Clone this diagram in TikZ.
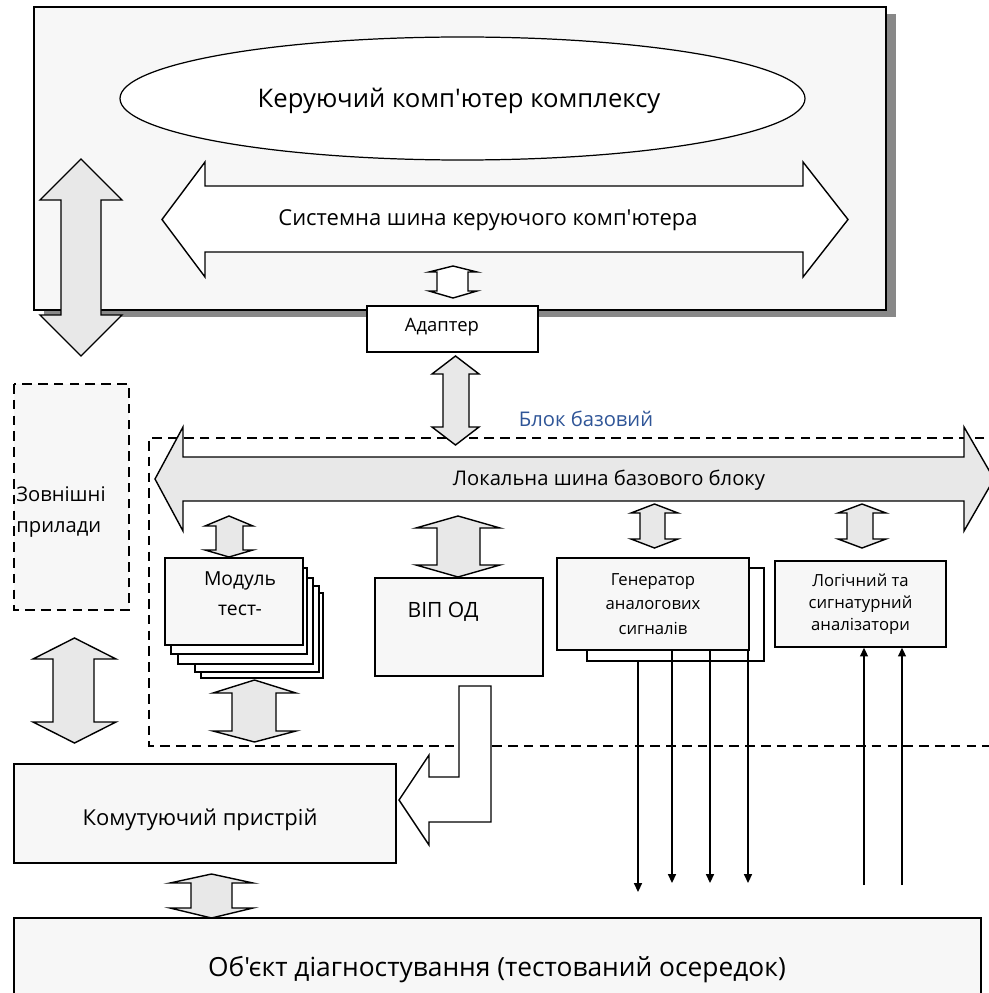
\documentclass[tikz,border=0pt]{standalone}
\usepackage{fontspec}
\setmainfont{Open Sans}[Ligatures=TeXOff]
\usetikzlibrary{arrows.meta,shapes.geometric,shadows}

\definecolor{boxfill}{HTML}{F7F7F7}
\definecolor{busfill}{HTML}{E8E8E8}
\definecolor{shadowgray}{HTML}{888888}
\definecolor{labelblue}{RGB}{47,85,151}
\newcommand{\pxu}{0.02cm}

% vertical double block arrow: fill, xl, xr, shaft l, shaft r, top, head base 1, head base 2, bottom
\newcommand{\vbus}[9]{%
  \filldraw[bus,fill=#1] ({(#2+#3)/2},#6) -- (#3,#7) -- (#5,#7) -- (#5,#8) -- (#3,#8)
    -- ({(#2+#3)/2},#9) -- (#2,#8) -- (#4,#8) -- (#4,#7) -- (#2,#7) -- cycle;}
% horizontal double block arrow: fill, left tip, right tip, head l, head r, top, shaft top, shaft bottom, bottom
\newcommand{\hbus}[9]{%
  \filldraw[bus,fill=#1] (#2,{(#6+#9)/2}) -- (#4,#6) -- (#4,#7) -- (#5,#7) -- (#5,#6)
    -- (#3,{(#6+#9)/2}) -- (#5,#9) -- (#5,#8) -- (#4,#8) -- (#4,#9) -- cycle;}

\begin{document}
\begin{tikzpicture}[x=\pxu,y=-\pxu,
    box/.style={draw,line width=0.8pt,fill=boxfill,rectangle,inner sep=0pt},
    dashbox/.style={draw,line width=0.8pt,dash pattern=on 5.5pt off 3.5pt},
    bus/.style={draw,line width=0.8pt,line join=miter},
    sig/.style={line width=0.9pt,-{Triangle[length=5pt,width=4.5pt]}}]
\useasboundingbox (0,0) rectangle (989,993);

% control computer
\node[box,minimum width=852*\pxu,minimum height=303*\pxu,
  drop shadow={shadow xshift=5.5pt,shadow yshift=-4pt,fill=shadowgray,opacity=1}] (host) at (460,158.5) {};
\node[ellipse,draw,line width=0.7pt,fill=white,minimum width=685*\pxu,minimum height=123*\pxu] (ctrl) at (462.5,98.5) {};
\node[font=\fontsize{14.6}{17}\selectfont] at (459,101) {Керуючий комп'ютер комплексу};
\hbus{white}{162}{848}{205}{803}{162}{186}{252}{277}
\node[font=\fontsize{12.5}{15}\selectfont] (sysbus) at (488,220) {Системна шина керуючого комп'ютера};
\vbus{white}{429}{477}{437}{468}{266}{272}{291}{298}
\node[box,fill=white,minimum width=171*\pxu,minimum height=46*\pxu] (adapter) at (452.5,329) {};
\node[font=\fontsize{10.5}{12}\selectfont] at (442,327) {Адаптер};

% base block
\draw[dashbox] (1000,438) -- (149,438) -- (149,746) -- (1000,746);
\node[text=labelblue,font=\fontsize{11.5}{14}\selectfont] (baselbl) at (586,419) {Блок базовий};
\vbus{busfill}{432}{479}{443}{469}{356}{374}{427}{445}
\hbus{busfill}{155}{994}{183}{964}{427}{457}{501}{531}
\node[font=\fontsize{11.5}{14}\selectfont] (locbus) at (609,480) {Локальна шина базового блоку};

% external devices
\draw[dashbox,fill=boxfill] (14,384) rectangle (129,610);
\node[anchor=west,align=left,inner sep=0pt,font=\fontsize{11.5}{17.6}\selectfont] (ext) at (16,512) {Зовнішні\\прилади};
\vbus{busfill}{40}{122}{61}{101}{159}{200}{315}{356}
\vbus{busfill}{33}{116}{53}{94}{638}{659}{722}{743}

% test modules
\foreach \xa/\ya/\xb/\yb in {201/593/323/678,195/586/319/672,178/578/313/664,171/568/307/654}
  \filldraw[fill=white,line width=0.8pt] (\xa,\ya) rectangle (\xb,\yb);
\node[box,minimum width=138*\pxu,minimum height=87*\pxu] (module) at (234,601.5) {};
\node[align=center,font=\fontsize{11}{17}\selectfont] at (240,594) {Модуль\\тест-};
\vbus{busfill}{205}{253}{216}{243}{516}{526}{550}{557}
\vbus{busfill}{213}{296}{232}{276}{680}{693}{731}{742}

% VIP OD
\node[box,minimum width=168*\pxu,minimum height=98*\pxu] (vip) at (459,627) {};
\node[font=\fontsize{12}{14}\selectfont] at (443,612) {ВІП ОД};
\vbus{busfill}{416}{500}{437}{480}{516}{528}{565}{577}

% generator
\node[draw,line width=0.8pt,fill=white,rectangle,minimum width=177*\pxu,minimum height=93*\pxu] (genback) at (675.5,614.5) {};
\node[box,minimum width=192*\pxu,minimum height=92*\pxu,align=center,
  font=\fontsize{9.5}{13.9}\selectfont] (gen) at (653,604) {Генератор\\аналогових\\сигналів};
\vbus{busfill}{631}{678}{640}{665}{504}{513}{539}{548}

% analysers
\node[box,minimum width=171*\pxu,minimum height=86*\pxu,align=center,
  font=\fontsize{9.5}{12.5}\selectfont] (logic) at (860.5,604) {Логічний та\\сигнатурний\\аналізатори};
\vbus{busfill}{838}{886}{847}{873}{504}{513}{539}{548}

% signal lines
\foreach \x/\y [count=\i] in {638/892,672/883,710/883,748/883}{
  \coordinate (gx\i) at (\x,0);
  \coordinate (gout\i) at (\x,\y);
}
\draw[sig] (genback.south -| gx1) -- (gout1);
\foreach \i in {2,3,4}
  \draw[sig] (gen.south -| gx\i) -- (gout\i);
\foreach \x [count=\i] in {864,902}{
  \coordinate (lin\i) at (\x,885);
  \draw[sig] (lin\i) -- (logic.south -| lin\i);
}

% switching device
\node[box,minimum width=382*\pxu,minimum height=99*\pxu] (switch) at (205,813.5) {};
\node[font=\fontsize{12.5}{15}\selectfont] at (200,820) {Комутуючий пристрій};
\filldraw[bus,fill=white] (459,686) -- (491,686) -- (491,822) -- (429,822) -- (429,845) -- (399,800)
  -- (429,755) -- (429,777) -- (459,777) -- cycle;
\vbus{busfill}{170}{253}{191}{232}{874}{883}{908}{918}

% object
\draw[box] (14,1005) -- (14,918) -- (981,918) -- (981,1005);
\node[font=\fontsize{15}{18}\selectfont] (obj) at (497,970) {Об'єкт діагностування (тестований осередок)};
\end{tikzpicture}
\end{document}
